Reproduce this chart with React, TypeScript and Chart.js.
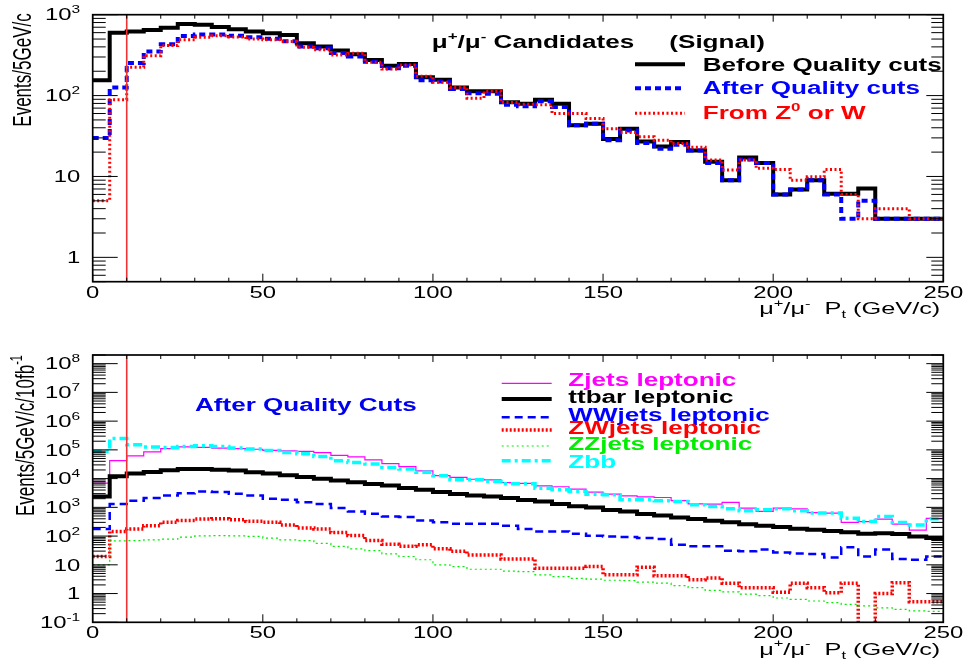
import React, { useEffect, useRef } from "react";
import { Chart, registerables } from "chart.js";

Chart.register(...registerables);

// ---------------- data ----------------
const BIN_LOW_EDGES = [
  0, 5, 10, 15, 20, 25, 30, 35, 40, 45, 50, 55, 60, 65, 70, 75, 80, 85, 90, 95,
  100, 105, 110, 115, 120, 125, 130, 135, 140, 145, 150, 155, 160, 165, 170, 175, 180, 185, 190, 195,
  200, 205, 210, 215, 220, 225, 230, 235, 240, 245,
];
const X_MAX = 250;
const CUT_PT = 10;

const X_MAJOR_TICKS = [0, 50, 100, 150, 200, 250];
const X_MINOR_TICKS = [10, 20, 30, 40, 60, 70, 80, 90, 110, 120, 130, 140, 160, 170, 180, 190, 210, 220, 230, 240];

// top panel: mu candidates (signal)
const TOP_Y_MIN = 0.5;
const TOP_Y_MAX = 1000;
const TOP_Y_DECADES = [0, 1, 2, 3];
const TOP_BEFORE = [
  155, 600, 620, 645, 690, 765, 750, 707, 660, 620, 590, 560, 445, 405, 360, 325, 275, 234, 245, 168,
  157, 126, 113, 113, 83, 79, 89, 79, 43, 45, 29, 39, 27, 23.5, 26.7, 21, 15.2, 9.0, 17.1, 14.7,
  6.0, 6.9, 9.0, 6.1, 6.1, 7.1, 3.0, 3.0, 3.0, 3.0,
];
const TOP_AFTER = [
  30, 126, 252, 350, 430, 545, 570, 570, 550, 525, 505, 470, 405, 385, 335, 305, 262, 218, 234, 155,
  149, 121, 107, 105, 77, 74, 85, 72, 43, 45, 28, 37, 26, 22, 24.7, 21, 14.7, 9.0, 16.2, 14.7,
  6.0, 6.9, 9.0, 6.0, 3.0, 5.0, 3.0, 3.0, 3.0, 3.0,
];
const TOP_FROM_ZW = [
  5, 89, 224, 310, 415, 490, 525, 550, 530, 500, 490, 465, 395, 370, 318, 333, 258, 213, 238, 174,
  146, 126, 93, 113, 82, 78, 77, 60, 60, 52, 39, 35, 31, 28, 25.5, 23, 16, 12, 16, 12.6,
  12.2, 9.0, 9.9, 12.2, 6.0, 3.0, 4.0, 4.0, 3.0, 3.0,
];

// bottom panel: backgrounds after quality cuts
const BOT_Y_MIN = 0.1;
const BOT_Y_MAX = 2e8;
const BOT_Y_DECADES = [-1, 0, 1, 2, 3, 4, 5, 6, 7, 8];
const BOT_ZJETS = [
  7000, 42000, 62000, 85000, 110000, 128000, 122000, 115000, 110000, 105000, 96000, 92000, 88000, 80000,
  64000, 57000, 45000, 33000, 26000, 18500, 12800, 11000, 9500, 9000, 7200, 6800, 5600, 5200, 4300, 3400,
  2900, 2500, 2300, 2200, 1700, 1330, 1300, 1500, 940, 720, 940, 890, 660, 630, 300, 320, 390, 260, 160, 410,
];
const BOT_TTBAR = [
  2400, 12000, 15000, 17000, 19500, 21500, 21500, 20500, 19000, 16500, 15000, 13000, 11300, 9800, 8600,
  7400, 6500, 5700, 4700, 4100, 3400, 2900, 2600, 2400, 2100, 1800, 1600, 1300, 1100, 980, 810, 720, 590,
  520, 440, 390, 340, 300, 260, 230, 205, 180, 165, 150, 135, 120, 126, 117, 96, 85,
];
const BOT_WWJETS = [
  175, 1300, 1700, 2100, 2600, 3100, 3550, 3400, 2950, 2600, 2000, 1830, 1500, 1300, 940, 720, 600, 480,
  460, 350, 300, 270, 270, 270, 230, 175, 145, 145, 120, 102, 97, 92, 85, 79, 50, 44, 44, 31, 29.5, 34,
  27, 25, 24, 18, 41, 19.5, 34, 16, 15, 19.5,
];
const BOT_ZWJETS = [
  19.5, 145, 175, 230, 300, 350, 390, 400, 370, 325, 300, 245, 190, 175, 133, 104, 70, 52, 44, 50, 36,
  29.5, 22, 22, 16, 16, 7.6, 7.6, 7.6, 8.7, 4.5, 4.5, 8.2, 4.2, 4.2, 3.0, 3.5, 2.3, 1.6, 1.6, 1.1, 2.3,
  1.6, 1.07, 2.3, 0.01 /* empty bin */, 1.0, 2.4, 0.52, 0.52,
];
const BOT_ZZJETS = [
  10, 68, 70, 74, 78, 92, 102, 104, 102, 97, 85, 74, 70, 56, 44, 36, 31, 24, 19.5, 15, 10, 8.7, 7, 7, 6,
  5.8, 4.5, 3.9, 3.4, 3.2, 2.9, 2.8, 2.5, 2.3, 1.9, 1.6, 1.3, 1.15, 0.95, 0.85, 0.7, 0.63, 0.55, 0.48,
  0.42, 0.37, 0.32, 0.28, 0.25, 0.24,
];
const BOT_ZBB = [
  87000, 250000, 150000, 126000, 122000, 132000, 139000, 132000, 115000, 107000, 96000, 81000, 74000,
  59000, 42000, 36000, 32000, 24500, 21500, 16500, 12600, 9100, 9100, 7900, 6600, 6600, 4600, 4100, 3560,
  2880, 2740, 1830, 1830, 1700, 1600, 1230, 1070, 890, 760, 820, 890, 760, 630, 630, 420, 320, 480, 295,
  245, 400,
];

// ---------------- helpers ----------------
const FONT = '"Liberation Sans", Arial, Helvetica, sans-serif';
const SX = 1.49; // horizontal stretch of the original picture

type Run = { t: string; sup?: boolean; sub?: boolean };
type Style = { color: string; width: number; dash: number[] };

const fontFor = (size: number, bold: boolean) => `${bold ? "bold " : ""}${size}px ${FONT}`;

function runSize(r: Run, size: number) {
  return r.sup || r.sub ? size * 0.65 : size;
}
function measureRuns(ctx: CanvasRenderingContext2D, runs: Run[], size: number, bold: boolean) {
  let w = 0;
  for (const r of runs) {
    ctx.font = fontFor(runSize(r, size), bold);
    w += ctx.measureText(r.t).width;
  }
  return w;
}
function drawText(
  ctx: CanvasRenderingContext2D,
  runs: Run[],
  x: number,
  y: number,
  o: { size: number; bold?: boolean; color?: string; align?: "left" | "right" | "center"; rotate?: boolean }
) {
  const bold = !!o.bold;
  const w = measureRuns(ctx, runs, o.size, bold);
  const align = o.align || "left";
  const start = align === "right" ? -w : align === "center" ? -w / 2 : 0;
  ctx.save();
  ctx.translate(x, y);
  if (o.rotate) {
    ctx.rotate(-Math.PI / 2);
    ctx.scale(1, SX);
  } else {
    ctx.scale(SX, 1);
  }
  ctx.translate(start, 0);
  ctx.fillStyle = o.color || "#000";
  ctx.textAlign = "left";
  ctx.textBaseline = "alphabetic";
  let cx = 0;
  for (const r of runs) {
    const s = runSize(r, o.size);
    ctx.font = fontFor(s, bold);
    const dy = r.sup ? -o.size * 0.45 : r.sub ? o.size * 0.25 : 0;
    ctx.fillText(r.t, cx, dy);
    cx += ctx.measureText(r.t).width;
  }
  ctx.restore();
}

function steps(values: number[]) {
  const pts = values.map((v, i) => ({ x: BIN_LOW_EDGES[i], y: v }));
  pts.push({ x: X_MAX, y: values[values.length - 1] });
  return pts;
}

function histDataset(label: string, values: number[], st: Style, order: number) {
  return {
    label,
    data: steps(values),
    borderColor: st.color,
    backgroundColor: st.color,
    borderWidth: st.width,
    borderDash: st.dash,
    borderCapStyle: "butt",
    borderJoinStyle: "miter",
    stepped: "before",
    pointRadius: 0,
    fill: false,
    order,
  };
}

function cutDataset(yMin: number, yMax: number) {
  return {
    label: "cut",
    data: [
      { x: CUT_PT, y: yMin },
      { x: CUT_PT, y: yMax },
    ],
    borderColor: "rgb(240,50,50)",
    borderWidth: 1.6,
    pointRadius: 0,
    fill: false,
    order: -1,
  };
}

type LegendRow = { label: Run[]; style: Style; textColor: string; lineY: number; textY: number };
type Decor = {
  yDecades: number[];
  yTitle: Run[];
  yTitleX: number;
  yTitleY: number;
  texts: { runs: Run[]; x: number; y: number; color: string }[];
  legend: LegendRow[];
  legX1: number;
  legX2: number;
  legTextX: number;
};

const MU_TITLE: Run[] = [{ t: "μ" }, { t: "+", sup: true }, { t: "/μ" }, { t: "-", sup: true }];
const X_TITLE: Run[] = [...MU_TITLE, { t: "  P" }, { t: "t", sub: true }, { t: " (GeV/c)" }];

function decorPlugin(d: Decor) {
  return {
    id: "rootDecor",
    afterDatasetsDraw(chart: any) {
      const ctx: CanvasRenderingContext2D = chart.ctx;
      const a = chart.chartArea;
      const xs = chart.scales.x;
      const ys = chart.scales.y;
      ctx.save();
      ctx.setLineDash([]);
      ctx.strokeStyle = "#000";
      const seg = (x1: number, y1: number, x2: number, y2: number) => {
        ctx.beginPath();
        ctx.moveTo(x1, y1);
        ctx.lineTo(x2, y2);
        ctx.stroke();
      };
      // ticks
      ctx.lineWidth = 1;
      for (const v of X_MINOR_TICKS) {
        const px = xs.getPixelForValue(v);
        seg(px, a.bottom, px, a.bottom - 4);
        seg(px, a.top, px, a.top + 4);
      }
      for (const v of X_MAJOR_TICKS) {
        const px = xs.getPixelForValue(v);
        seg(px, a.bottom, px, a.bottom - 8);
        seg(px, a.top, px, a.top + 7);
      }
      const lo = Math.floor(Math.log10(ys.min));
      const hi = Math.ceil(Math.log10(ys.max));
      for (let e = lo; e <= hi; e++) {
        for (let k = 1; k <= 9; k++) {
          const v = k * Math.pow(10, e);
          if (v < ys.min * 0.999 || v > ys.max * 1.001) continue;
          const py = ys.getPixelForValue(v);
          const major = k === 1;
          seg(a.left, py, a.left + (major ? 25 : 13), py);
          seg(a.right, py, a.right - (major ? 17 : 12), py);
        }
      }
      // frame
      ctx.lineWidth = 1.7;
      ctx.strokeRect(a.left, a.top, a.right - a.left, a.bottom - a.top);

      // tick labels
      for (const v of X_MAJOR_TICKS) {
        drawText(ctx, [{ t: String(v) }], xs.getPixelForValue(v), a.bottom + 16, { size: 16, align: "center" });
      }
      for (const e of d.yDecades) {
        const runs: Run[] = e === 0 ? [{ t: "1" }] : e === 1 ? [{ t: "10" }] : [{ t: "10" }, { t: String(e), sup: true }];
        drawText(ctx, runs, a.left - 12.5, ys.getPixelForValue(Math.pow(10, e)) + 5.7, { size: 16, align: "right" });
      }
      // axis titles
      drawText(ctx, X_TITLE, a.right - 3, a.bottom + 32.5, { size: 17, align: "right" });
      drawText(ctx, d.yTitle, d.yTitleX, d.yTitleY, { size: 17, align: "right", rotate: true });

      // free texts
      for (const t of d.texts) drawText(ctx, t.runs, t.x, t.y, { size: 17.5, bold: true, color: t.color });

      // legend
      for (const row of d.legend) {
        ctx.save();
        ctx.strokeStyle = row.style.color;
        ctx.lineWidth = row.style.width;
        ctx.setLineDash(row.style.dash);
        ctx.lineCap = "butt";
        seg(d.legX1, row.lineY, d.legX2, row.lineY);
        ctx.restore();
        drawText(ctx, row.label, d.legTextX, row.textY, { size: 17.5, bold: true, color: row.textColor });
      }
      ctx.restore();
    },
  };
}

function makeChart(
  canvas: HTMLCanvasElement,
  datasets: any[],
  yMin: number,
  yMax: number,
  padding: { left: number; right: number; top: number; bottom: number },
  decor: Decor
) {
  return new Chart(canvas, {
    type: "line",
    data: { datasets },
    options: {
      animation: false,
      responsive: false,
      maintainAspectRatio: false,
      layout: { padding },
      plugins: { legend: { display: false }, tooltip: { enabled: false } },
      events: [],
      scales: {
        x: { type: "linear", min: 0, max: X_MAX, display: false },
        y: { type: "logarithmic", min: yMin, max: yMax, display: false },
      },
      elements: { point: { radius: 0 }, line: { tension: 0 } },
    } as any,
    plugins: [decorPlugin(decor) as any],
  } as any);
}

// styles
const S_BEFORE: Style = { color: "#000000", width: 4, dash: [] };
const S_AFTER: Style = { color: "#0000ff", width: 4, dash: [6, 4] };
const S_FROMZW: Style = { color: "#ff0000", width: 3, dash: [2, 2.5] };

const S_ZJETS: Style = { color: "#ff00ff", width: 1.2, dash: [] };
const S_TTBAR: Style = { color: "#000000", width: 4, dash: [] };
const S_WW: Style = { color: "#0000ff", width: 2.5, dash: [8, 5] };
const S_ZW: Style = { color: "#ff0000", width: 3.5, dash: [2, 2] };
const S_ZZ: Style = { color: "#00ee00", width: 1.2, dash: [2, 3] };
const S_ZBB: Style = { color: "#00ffff", width: 3.5, dash: [9, 4, 3, 4] };

export default function App() {
  const topRef = useRef<HTMLCanvasElement>(null);
  const botRef = useRef<HTMLCanvasElement>(null);

  useEffect(() => {
    const top = makeChart(
      topRef.current!,
      [
        cutDataset(TOP_Y_MIN, TOP_Y_MAX),
        histDataset("Before Quality cuts", TOP_BEFORE, S_BEFORE, 3),
        histDataset("After Quality cuts", TOP_AFTER, S_AFTER, 2),
        histDataset("From Z0 or W", TOP_FROM_ZW, S_FROMZW, 1),
      ],
      TOP_Y_MIN,
      TOP_Y_MAX,
      { left: 92.7, right: 20.7, top: 14.7, bottom: 48.3 },
      {
        yDecades: TOP_Y_DECADES,
        yTitle: [{ t: "Events/5GeV/c" }],
        yTitleX: 31.3,
        yTitleY: 13.3,
        texts: [
          { runs: [...MU_TITLE, { t: " Candidates" }], x: 431.7, y: 47.7, color: "#000" },
          { runs: [{ t: "(Signal)" }], x: 669.3, y: 47.7, color: "#000" },
        ],
        legend: [
          { label: [{ t: "Before Quality cuts" }], style: S_BEFORE, textColor: "#000", lineY: 64.3, textY: 70.7 },
          { label: [{ t: "After Quality cuts" }], style: S_AFTER, textColor: "#0000ff", lineY: 88.3, textY: 94.3 },
          {
            label: [{ t: "From Z" }, { t: "0", sup: true }, { t: " or W" }],
            style: S_FROMZW,
            textColor: "#ff0000",
            lineY: 113.3,
            textY: 119.3,
          },
        ],
        legX1: 635,
        legX2: 685,
        legTextX: 702.7,
      }
    );
    const bot = makeChart(
      botRef.current!,
      [
        cutDataset(BOT_Y_MIN, BOT_Y_MAX),
        histDataset("Zjets leptonic", BOT_ZJETS, S_ZJETS, 5),
        histDataset("ttbar leptonic", BOT_TTBAR, S_TTBAR, 4),
        histDataset("WWjets leptonic", BOT_WWJETS, S_WW, 3),
        histDataset("ZWjets leptonic", BOT_ZWJETS, S_ZW, 2),
        histDataset("ZZjets leptonic", BOT_ZZJETS, S_ZZ, 1),
        histDataset("Zbb", BOT_ZBB, S_ZBB, 0),
      ],
      BOT_Y_MIN,
      BOT_Y_MAX,
      { left: 92.7, right: 20.7, top: 25, bottom: 39.7 },
      {
        yDecades: BOT_Y_DECADES,
        yTitle: [{ t: "Events/5GeV/c/10fb" }, { t: "-1", sup: true }],
        yTitleX: 33.5,
        yTitleY: 25,
        texts: [{ runs: [{ t: "After Quality Cuts" }], x: 195, y: 81, color: "#0000ee" }],
        legend: [
          { label: [{ t: "Zjets leptonic" }], style: S_ZJETS, textColor: "#ff00ff", lineY: 53.3, textY: 56 },
          { label: [{ t: "ttbar leptonic" }], style: S_TTBAR, textColor: "#000", lineY: 69, textY: 72.7 },
          { label: [{ t: "WWjets leptonic" }], style: S_WW, textColor: "#0000ff", lineY: 87.3, textY: 90.7 },
          { label: [{ t: "ZWjets leptonic" }], style: S_ZW, textColor: "#ff0000", lineY: 100, textY: 104.3 },
          { label: [{ t: "ZZjets leptonic" }], style: S_ZZ, textColor: "#00ee00", lineY: 116, textY: 120 },
          { label: [{ t: "Zbb" }], style: S_ZBB, textColor: "#00ffff", lineY: 130.7, textY: 138.3 },
        ],
        legX1: 501.7,
        legX2: 551.7,
        legTextX: 568.3,
      }
    );
    return () => {
      top.destroy();
      bot.destroy();
    };
  }, []);

  return (
    <div style={{ position: "absolute", left: 0, top: 0, width: 964, height: 662, background: "#fff" }}>
      <canvas
        ref={topRef}
        width={964}
        height={330}
        style={{ position: "absolute", left: 0, top: 0, width: 964, height: 330 }}
      />
      <canvas
        ref={botRef}
        width={964}
        height={332}
        style={{ position: "absolute", left: 0, top: 330, width: 964, height: 332 }}
      />
    </div>
  );
}
